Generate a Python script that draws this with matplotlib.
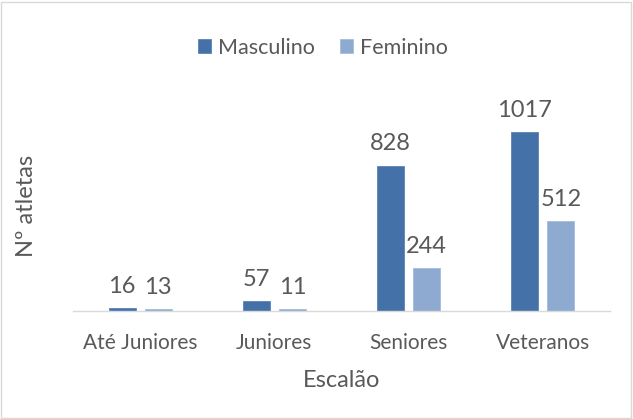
import matplotlib.pyplot as plt
import numpy as np
from matplotlib.patches import Rectangle

categorias = ['Até Juniores', 'Juniores', 'Seniores', 'Veteranos']
masculino = [16, 57, 828, 1017]
feminino = [13, 11, 244, 512]

plt.rcParams['font.family'] = ['Lato', 'DejaVu Sans']
cinza = '#595959'
col_m = '#4472A8'
col_f = '#8FAAD1'

fig = plt.figure(figsize=(6.33, 4.19), dpi=100)
ax = fig.add_axes([0.1153, 0.2578, 0.8484, 0.5032])

x = np.arange(len(categorias))
w = 0.2
off = 0.134
b1 = ax.bar(x - off, masculino, w, color=col_m, edgecolor='#5B82B8', linewidth=0.6, label='Masculino')
b2 = ax.bar(x + off, feminino, w, color=col_f, edgecolor='#A3BBDD', linewidth=0.6, label='Feminino')

for bars, vals in [(b1, masculino), (b2, feminino)]:
    for r, v in zip(bars, vals):
        ax.annotate(str(v), (r.get_x() + r.get_width() / 2, r.get_height()),
                    xytext=(0, 8), textcoords='offset points', ha='center', va='bottom',
                    fontsize=17, color=cinza)

ax.set_xlim(-0.5, 3.5)
ax.set_ylim(0, 1200)
ax.set_yticks([])
ax.set_xticks(x)
ax.set_xticklabels(categorias, fontsize=15, color=cinza)
ax.tick_params(axis='x', length=0, pad=16)
for s in ['top', 'right', 'left']:
    ax.spines[s].set_visible(False)
ax.spines['bottom'].set_color('#D9D9D9')
ax.spines['bottom'].set_linewidth(1)

ax.set_xlabel('Escalão', fontsize=17, color=cinza, labelpad=12)
ax.set_ylabel('Nº atletas', fontsize=17, color=cinza, labelpad=26)

fig.legend(handles=[b1, b2], loc='center', bbox_to_anchor=(0.51, 0.886), ncol=2,
           frameon=False, fontsize=15.5, labelcolor=cinza, handlelength=0.6, handleheight=0.6,
           handletextpad=0.3, columnspacing=1.2)

fig.patches.append(Rectangle((0.002, 0.002), 0.995, 0.994, transform=fig.transFigure,
                             fill=False, edgecolor='#D9D9D9', linewidth=1))

fig.savefig('out.png', dpi=100)
